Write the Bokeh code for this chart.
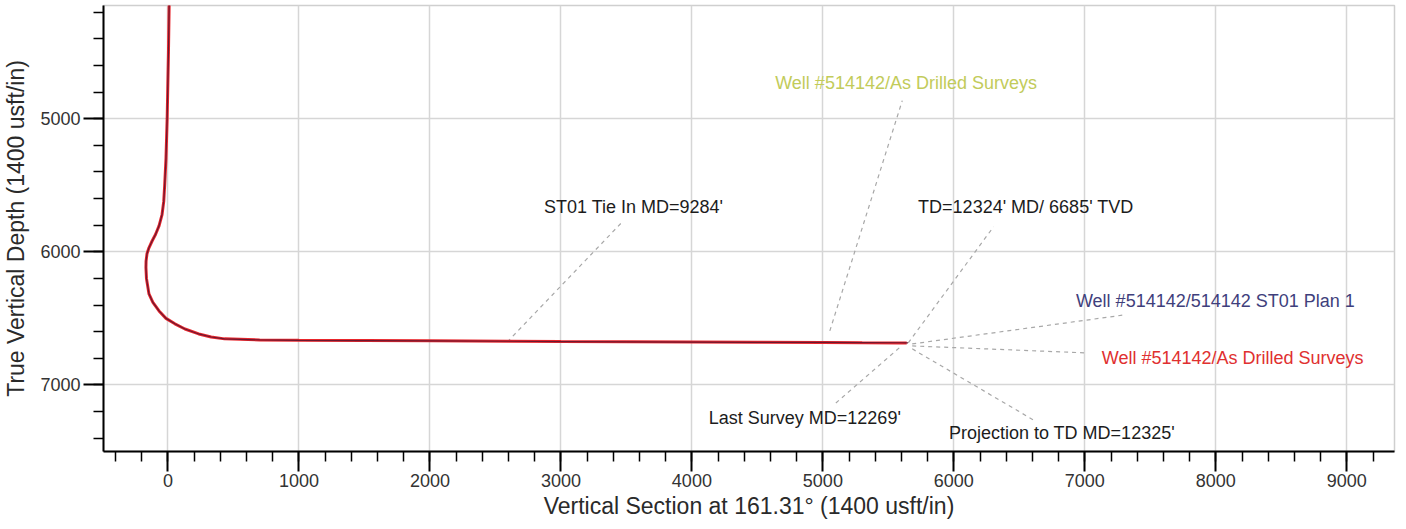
from bokeh.plotting import figure
from bokeh.models import Range1d, SingleIntervalTicker, ColumnDataSource
from bokeh.core.properties import value
from bokeh.embed import file_html
from bokeh.resources import INLINE

# --- data: As Drilled Surveys (vertical section, TVD) ---
survey_vs = [10, 4, -6, -15, -25, -32, -45, -68, -95, -120, -145, -160, -167, -168, -164, -145,
             -115, -68, -15, 53, 130, 235, 330, 432, 700, 1000, 1500, 2000, 2600, 3000, 3500,
             4000, 4500, 5000, 5300, 5585, 5640]
survey_tvd = [4100, 4500, 5000, 5300, 5500, 5620, 5720, 5805, 5870, 5917, 5970, 6015, 6070, 6120,
              6200, 6316, 6380, 6444, 6500, 6541, 6580, 6617, 6640, 6654, 6662, 6665, 6667, 6669,
              6672, 6674, 6676, 6678, 6680, 6682, 6684, 6685, 6685]

# --- data: ST01 Plan 1 ---
plan_vs = [10, 4, -6, -15, -25, -32, -45, -68, -95, -120, -145, -160, -167, -168, -164, -145,
           -115, -68, -15, 53, 130, 235, 330, 432, 700, 1000, 1500, 2000, 2600, 3000, 3500,
           4000, 4500, 5000, 5300, 5600, 5650]
plan_tvd = [4100, 4500, 5000, 5300, 5500, 5620, 5720, 5805, 5870, 5917, 5970, 6015, 6070, 6120,
            6200, 6316, 6380, 6444, 6500, 6541, 6580, 6617, 6640, 6654, 6662, 6665, 6667, 6669,
            6672, 6674, 6676, 6678, 6680, 6681, 6682, 6683, 6684]

# --- annotations ---
label_text = ["Well #514142/As Drilled Surveys", "ST01 Tie In MD=9284'", "TD=12324' MD/ 6685' TVD",
              "Well #514142/514142 ST01 Plan 1", "Well #514142/As Drilled Surveys",
              "Last Survey MD=12269'", "Projection to TD MD=12325'"]
label_vs = [4636, 2871, 5727, 6932, 7129, 4129, 5962]
label_tvd = [4729, 5662, 5662, 6368, 6797, 7248, 7361]
label_color = ["#c2cb5a", "#1c1c1c", "#1c1c1c", "#3f3f7c", "#e03030", "#1c1c1c", "#1c1c1c"]

leader_vs0 = [5053, 2591, 5652, 5682, 5682, 5583, 5682]
leader_tvd0 = [6594, 6677, 6684, 6692, 6707, 6722, 6729]
leader_vs1 = [5606, 3477, 6303, 7303, 7000, 5091, 6621]
leader_tvd1 = [4865, 5767, 5812, 6474, 6759, 7143, 7271]

x_title = "Vertical Section at 161.31° (1400 usft/in)"
y_title = "True Vertical Depth (1400 usft/in)"

FONT = "Liberation Sans"

p = figure(width=1398, height=521, output_backend="svg", toolbar_location=None,
           x_range=Range1d(-492, 9364), y_range=Range1d(7500, 4150),
           min_border_left=93, min_border_right=4, min_border_top=5, min_border_bottom=70)
p.background_fill_color = "white"
p.outline_line_color = "#cfcfcf"
p.outline_line_width = 1.5

for ax, title in ((p.xaxis, x_title), (p.yaxis, y_title)):
    ax.ticker = SingleIntervalTicker(interval=1000, num_minor_ticks=5)
    ax.axis_line_color = "black"
    ax.axis_line_width = 2
    ax.major_tick_line_color = "black"
    ax.major_tick_line_width = 2
    ax.minor_tick_line_color = "black"
    ax.minor_tick_line_width = 1.5
    ax.major_tick_out = 20
    ax.major_tick_in = 0
    ax.minor_tick_out = 10
    ax.minor_tick_in = 0
    ax.major_label_text_font = FONT
    ax.major_label_text_font_size = "18px"
    ax.major_label_text_color = "#333333"
    ax.axis_label = title
    ax.axis_label_text_font = FONT
    ax.axis_label_text_font_size = "23px"
    ax.axis_label_text_font_style = "normal"
    ax.axis_label_text_color = "#2a2a2a"

p.xaxis.major_label_standoff = 2
p.yaxis.major_label_standoff = 3
p.xaxis.axis_label_standoff = 3
p.yaxis.axis_label_standoff = 8

p.xgrid.ticker = SingleIntervalTicker(interval=1000)
p.ygrid.ticker = SingleIntervalTicker(interval=1000)
p.grid.grid_line_color = "#d6d6d6"
p.grid.grid_line_width = 1.5

# leader lines
p.segment(x0=leader_vs0, y0=leader_tvd0, x1=leader_vs1, y1=leader_tvd1,
          line_color="#a8a8a8", line_width=1.2, line_dash="4 4")

# well paths
p.line(survey_vs, survey_tvd, line_color="#e8262c", line_width=3)
p.line(plan_vs, plan_tvd, line_color="#6a1830", line_width=1.2)

src = ColumnDataSource(dict(x=label_vs, y=label_tvd, t=label_text, c=label_color))
p.text(x="x", y="y", text="t", text_color="c", source=src,
       text_font=value(FONT), text_font_size="18px",
       text_align="left", text_baseline="middle")

open("out.html", "w").write(file_html(p, INLINE))
